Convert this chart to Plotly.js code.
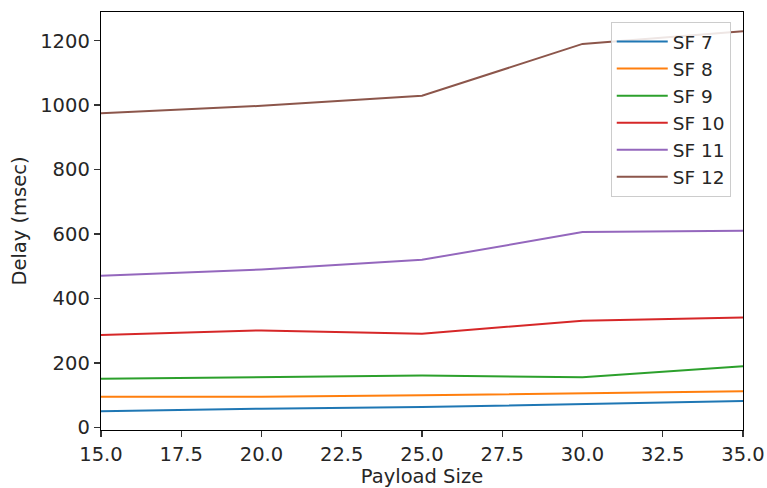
<!DOCTYPE html>
<html>
<head>
<meta charset="utf-8">
<script src="https://cdn.plot.ly/plotly-3.0.1.min.js"></script>
<style>html,body{margin:0;padding:0;background:#fff;}#chart{width:767px;height:488px;}</style>
</head>
<body>
<div id="chart"></div>
<script>
var payloadSizes = [15, 20, 25, 30, 35];
var seriesNames = ["SF 7", "SF 8", "SF 9", "SF 10", "SF 11", "SF 12"];
var sf7 = [50, 58, 63, 73, 82];
var sf8 = [95, 95, 100, 107, 112];
var sf9 = [151, 155, 161, 156, 190];
var sf10 = [287, 301, 291, 331, 341];
var sf11 = [471, 490, 520, 606, 610];
var sf12 = [975, 998, 1029, 1190, 1229];
var seriesValues = [sf7, sf8, sf9, sf10, sf11, sf12];
var seriesColors = ["#1f77b4", "#ff7f0e", "#2ca02c", "#d62728", "#9467bd", "#8c564b"];

var font = "DejaVu Sans, sans-serif";
var fs = 19.5;
var traces = seriesValues.map(function (vals, i) {
  return {
    x: payloadSizes, y: vals, name: seriesNames[i], type: "scatter", mode: "lines",
    line: {color: seriesColors[i], width: 2}
  };
});

var layout = {
  width: 767, height: 488,
  margin: {l: 101, r: 24, t: 12, b: 58},
  paper_bgcolor: "#ffffff", plot_bgcolor: "#ffffff",
  font: {family: font, size: fs, color: "#262626"},
  showlegend: true,
  legend: {
    x: 0.794, y: 0.976, xanchor: "left", yanchor: "top",
    itemwidth: 51,
    bgcolor: "rgba(255,255,255,0.85)", bordercolor: "#cccccc", borderwidth: 1,
    font: {family: font, size: 18.5, color: "#262626"}
  },
  xaxis: {
    range: [15, 35], tickmode: "linear", tick0: 15, dtick: 2.5, tickformat: ".1f",
    showgrid: false, zeroline: false, showline: true, mirror: true,
    linecolor: "#000", linewidth: 1.3, ticks: "outside", ticklen: 6, tickwidth: 1.3, tickcolor: "#333",
    title: {text: "Payload Size", font: {family: font, size: fs, color: "#262626"}, standoff: 6}
  },
  yaxis: {
    range: [-8, 1289], tickmode: "linear", tick0: 0, dtick: 200,
    showgrid: false, zeroline: false, showline: true, mirror: true,
    linecolor: "#000", linewidth: 1.3, ticks: "outside", ticklen: 6, tickwidth: 1.3, tickcolor: "#333",
    title: {text: "Delay (msec)", font: {family: font, size: fs, color: "#262626"}, standoff: 8}
  }
};

Plotly.newPlot("chart", traces, layout, {displayModeBar: false, staticPlot: true});
</script>
</body>
</html>
